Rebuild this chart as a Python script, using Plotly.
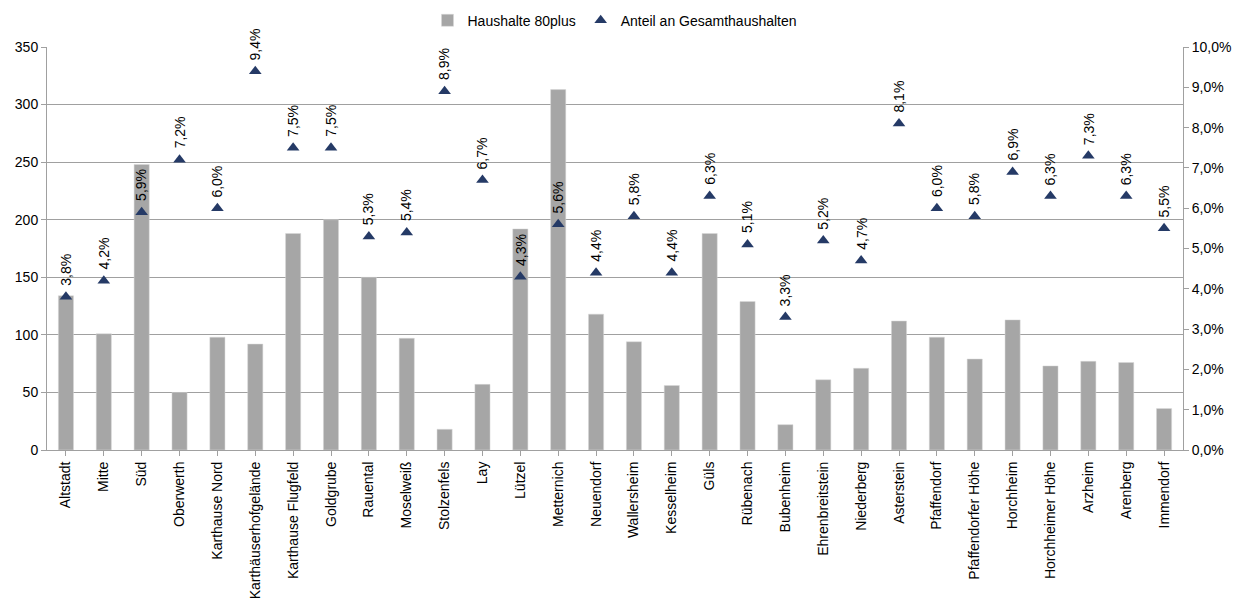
import plotly.graph_objects as go

categories = ["Altstadt", "Mitte", "Süd", "Oberwerth", "Karthause Nord", "Karthäuserhofgelände",
              "Karthause Flugfeld", "Goldgrube", "Rauental", "Moselweiß", "Stolzenfels", "Lay",
              "Lützel", "Metternich", "Neuendorf", "Wallersheim", "Kesselheim", "Güls", "Rübenach",
              "Bubenheim", "Ehrenbreitstein", "Niederberg", "Asterstein", "Pfaffendorf",
              "Pfaffendorfer Höhe", "Horchheim", "Horchheimer Höhe", "Arzheim", "Arenberg", "Immendorf"]
households_80plus = [134, 101, 248, 50, 98, 92, 188, 200, 150, 97, 18, 57, 192, 313, 118, 94, 56, 188,
                     129, 22, 61, 71, 112, 98, 79, 113, 73, 77, 76, 36]
share_pct = [3.8, 4.2, 5.9, 7.2, 6.0, 9.4, 7.5, 7.5, 5.3, 5.4, 8.9, 6.7, 4.3, 5.6, 4.4, 5.8, 4.4, 6.3,
             5.1, 3.3, 5.2, 4.7, 8.1, 6.0, 5.8, 6.9, 6.3, 7.3, 6.3, 5.5]
share = [v / 100 for v in share_pct]

FONT = "Liberation Sans, Arial, sans-serif"
FS = 14

fig = go.Figure()
fig.add_trace(go.Bar(
    x=categories, y=households_80plus, name="Haushalte 80plus",
    marker=dict(color="#A6A6A6", line=dict(color="#D9D9D9", width=0.5)),
    yaxis="y",
))
fig.add_trace(go.Scatter(
    x=categories, y=share, name="Anteil an Gesamthaushalten", mode="markers",
    marker=dict(symbol="triangle-up", size=11, color="#253A66"),
    yaxis="y2",
))

annotations = []
for c, v in zip(categories, share_pct):
    annotations.append(dict(
        x=c, y=v / 100, xref="x", yref="y2", text=f"{v:.1f}%".replace(".", ","),
        textangle=-90, showarrow=False, yanchor="bottom", xanchor="center", yshift=9,
        font=dict(family=FONT, size=FS, color="#000000"),
    ))

fig.update_layout(
    width=1240, height=603,
    margin=dict(l=47, r=57, t=47, b=153, autoexpand=False),
    paper_bgcolor="white", plot_bgcolor="white",
    separators=",.",
    font=dict(family=FONT, size=FS, color="#000000"),
    bargap=0.6,
    showlegend=True,
    legend=dict(orientation="h", x=0.5, xanchor="center", y=1.105, yanchor="top",
                font=dict(family=FONT, size=FS), tracegroupgap=0),
    xaxis=dict(
        type="category", range=[-0.5, len(categories) - 0.5], tickangle=-90,
        showline=True, linecolor="#A0A0A0", linewidth=1,
        ticks="outside", ticklen=5, tickcolor="#A0A0A0", showgrid=False,
        tickfont=dict(family=FONT, size=FS), automargin=False,
    ),
    yaxis=dict(
        range=[0, 350], dtick=50, showgrid=True, gridcolor="#A0A0A0", gridwidth=1,
        showline=True, linecolor="#A0A0A0", ticks="outside", ticklen=5, tickcolor="#A0A0A0",
        zeroline=False, tickfont=dict(family=FONT, size=FS), automargin=False,
    ),
    yaxis2=dict(
        range=[0, 0.10], dtick=0.01, tickformat=".1%", overlaying="y", side="right",
        showgrid=False, showline=True, linecolor="#A0A0A0", ticks="outside", ticklen=5,
        tickcolor="#A0A0A0", zeroline=False, tickfont=dict(family=FONT, size=FS), automargin=False,
    ),
    annotations=annotations,
)

fig.write_html("out.html")
